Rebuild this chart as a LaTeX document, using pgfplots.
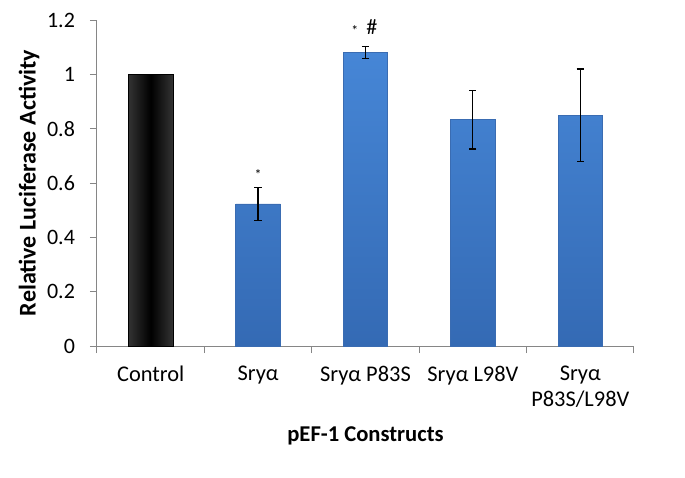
\documentclass[border=0pt]{standalone}
\usepackage{pgfplots}
\pgfplotsset{compat=1.18}
\usepackage{fontspec}
\setmainfont{Carlito}
\definecolor{barTop}{RGB}{70,134,214}
\definecolor{barBot}{RGB}{52,106,180}
\definecolor{barEdge}{RGB}{58,108,178}
\definecolor{axGray}{RGB}{134,134,134}
\begin{document}
\begin{tikzpicture}
\useasboundingbox (-48.5pt,-65.5pt) rectangle (294pt,173pt);
\begin{axis}[
  at={(0,0)}, anchor=south west,
  scale only axis, width=268.5pt, height=163pt,
  xmin=-0.5, xmax=4.5, ymin=0, ymax=1.2,
  ytick={0,0.2,...,1.2},
  yticklabels={0,0.2,0.4,0.6,0.8,1,1.2},
  xtick={0,1,2,3,4},
  xticklabels={Control, Sryα, Sryα P83S, Sryα L98V, {Sryα\\P83S/L98V}},
  xticklabel style={align=center, font=\fontsize{11.2}{13}\selectfont, yshift=-3pt},
  yticklabel style={font=\fontsize{11}{13}\selectfont, xshift=-4pt},
  minor xtick={-0.5,0.5,1.5,2.5,3.5,4.5},
  x tick style={draw=none},
  minor x tick style={draw=axGray, line width=0.5pt},
  y tick style={draw=axGray, line width=0.5pt},
  tick align=outside, major tick length=3.5pt, minor tick length=3.5pt,
  axis x line*=bottom, axis y line*=left,
  axis line style={draw=axGray, line width=0.5pt, -},
  /pgf/number format/assume math mode=true,
  ylabel={\textbf{Relative Luciferase Activity}},
  ylabel style={font=\fontsize{12}{14}\selectfont, yshift=-3pt},
  xlabel={\textbf{pEF-1 Constructs}},
  xlabel style={font=\fontsize{11.3}{13}\selectfont, yshift=-2.5pt},
  bar width=0.415,
  clip=false,
]
\addplot[ybar, draw=black, left color=black!80, right color=black!80, middle color=black,
  error bars/.cd, y dir=both, y explicit,
  error bar style={black, line width=0.6pt},
  error mark options={black, rotate=90, mark size=1.8pt, line width=0.6pt}]
  coordinates {(0,1.0) +- (0,0.0)};
\addplot[ybar, draw=barEdge, top color=barTop, bottom color=barBot,
  error bars/.cd, y dir=both, y explicit,
  error bar style={black, line width=0.6pt},
  error mark options={black, rotate=90, mark size=1.8pt, line width=0.6pt}]
  coordinates {(1,0.523) +- (0,0.06) (2,1.08) +- (0,0.021) (3,0.833) +- (0,0.108) (4,0.85) +- (0,0.17)};
\node[font=\fontsize{7}{8}\selectfont] at (axis cs:1,0.63) {*};
\node[font=\fontsize{7}{8}\selectfont] at (axis cs:1.902,1.163) {*};
\node[font=\fontsize{11}{13}\selectfont] at (axis cs:2.06,1.175) {\#};
\end{axis}
\end{tikzpicture}
\end{document}
